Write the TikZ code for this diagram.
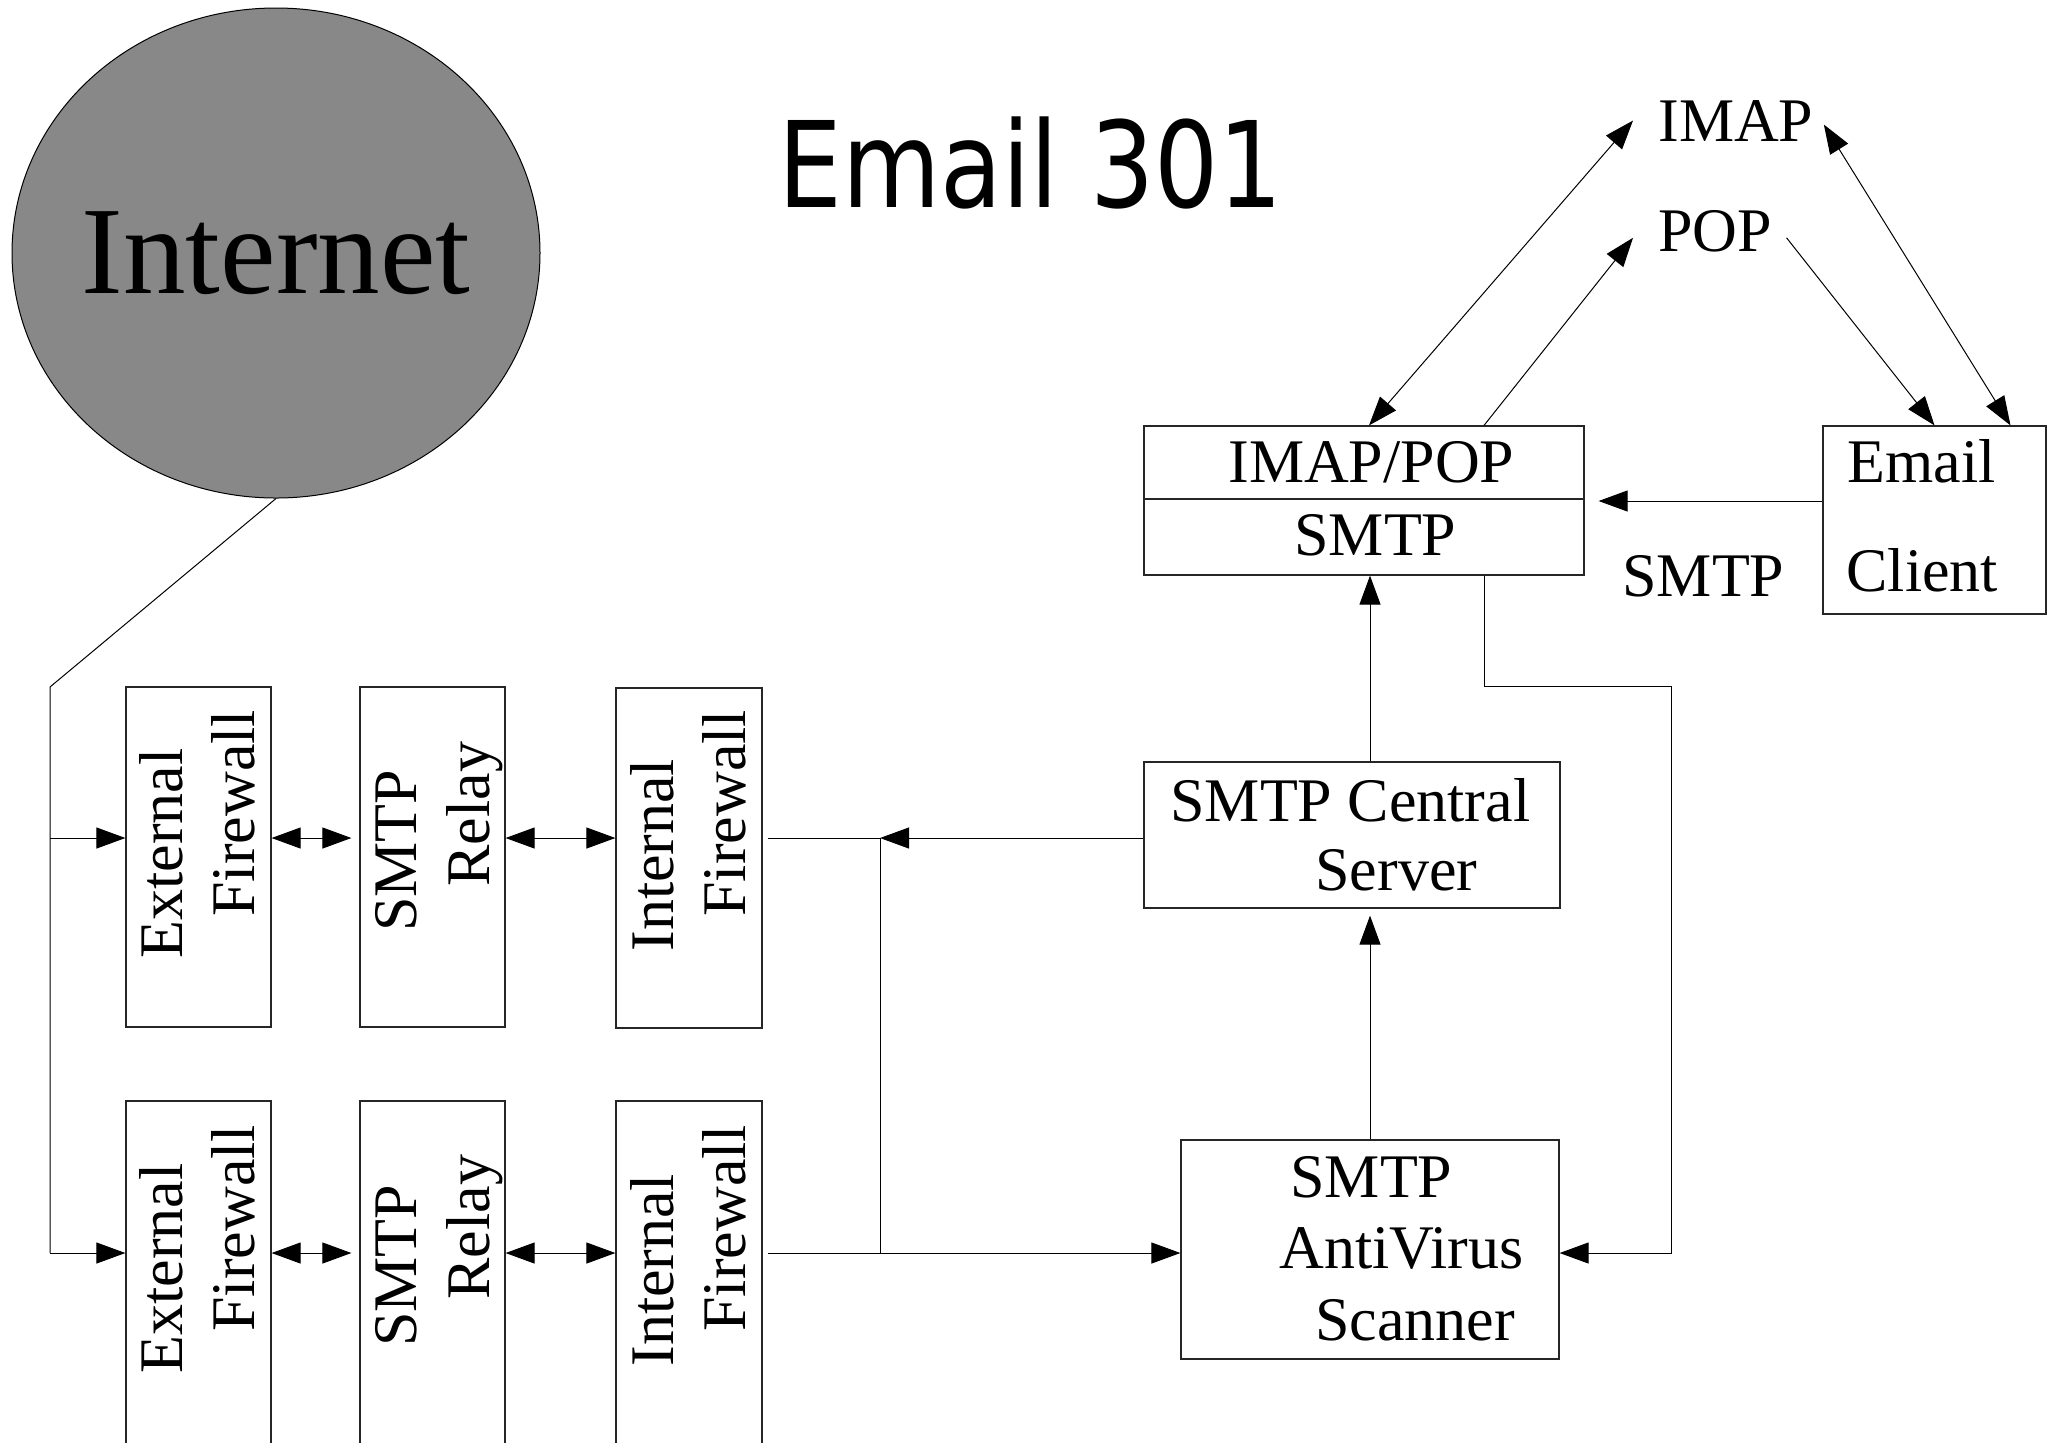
\documentclass[tikz,border=0pt]{standalone}
\usepackage{graphicx}
\usepackage{fontspec}
\setmainfont{Liberation Serif}
\newfontfamily\titlefont{DejaVu Sans}
\usetikzlibrary{arrows.meta,shapes.geometric}
\definecolor{inetgray}{RGB}{136,136,136}
\begin{document}
\begin{tikzpicture}[x=0.5pt,y=-0.5pt,
  box/.style={draw=black!85, line width=0.6pt, inner sep=0pt, rectangle},
  lbl/.style={inner sep=0pt, anchor=base west, font=\fontsize{31pt}{36pt}\selectfont},
  vlbl/.style={lbl, rotate=90},
  conn/.style={line width=0.5pt},
  tip/.style={Triangle[length=14.5pt,width=10.5pt]},
  arr/.style={conn, -{Triangle[length=14.5pt,width=10.5pt]}},
  darr/.style={conn, {Triangle[length=14.5pt,width=10.5pt]}-{Triangle[length=14.5pt,width=10.5pt]}}
]
\useasboundingbox (0,0) rectangle (2049,1442);

% Internet cloud
\node[ellipse, draw=black, fill=inetgray, line width=0.5pt, minimum width=264pt, minimum height=245pt, inner sep=0pt] (inet) at (276,253) {};
\node[inner sep=0pt, font=\fontsize{62.5pt}{70pt}\selectfont] (inetlabel) at (inet.center) {Internet};

% title
\node[inner sep=0pt, anchor=base west, font=\titlefont\fontsize{59.7pt}{66pt}\selectfont] (title) at (778,207) {\scalebox{0.845}[1]{Email 301}};

% left boxes
\node[box, minimum width=72.5pt, minimum height=170pt] (extT) at (198.5,857) {};
\node[box, minimum width=72.5pt, minimum height=170pt] (relT) at (432.5,857) {};
\node[box, minimum width=73pt, minimum height=170pt] (intT) at (689,858) {};
\node[box, minimum width=72.5pt, minimum height=174.5pt] (extB) at (198.5,1275.5) {};
\node[box, minimum width=72.5pt, minimum height=174.5pt] (relB) at (432.5,1275.5) {};
\node[box, minimum width=73pt, minimum height=174.5pt] (intB) at (689,1275.5) {};

\node[vlbl] (tExtT1) at (182,959) {External};
\node[vlbl] (tExtT2) at (254,917) {Firewall};
\node[vlbl] (tRelT1) at (416,932) {SMTP};
\node[vlbl] (tRelT2) at (489,887) {Relay};
\node[vlbl] (tIntT1) at (673,952) {Internal};
\node[vlbl] (tIntT2) at (745,917) {Firewall};

\node[vlbl] (tExtB1) at (182,1374) {External};
\node[vlbl] (tExtB2) at (254,1332) {Firewall};
\node[vlbl] (tRelB1) at (416,1347) {SMTP};
\node[vlbl] (tRelB2) at (489,1300) {Relay};
\node[vlbl] (tIntB1) at (673,1367) {Internal};
\node[vlbl] (tIntB2) at (745,1332) {Firewall};

% right boxes
\node[box, minimum width=220pt, minimum height=74.5pt] (imap) at (1364,500.5) {};
\node[box, minimum width=111.5pt, minimum height=94pt] (client) at (1934.5,520) {};
\node[box, minimum width=208pt, minimum height=73pt] (central) at (1352,835) {};
\node[box, minimum width=189pt, minimum height=109.5pt] (av) at (1370,1249.5) {};

\coordinate (dv) at (0,499);
\draw[line width=1pt, black!85] (imap.west |- dv) -- (imap.east |- dv);

\node[lbl] (tIMAP) at (1658,141) {IMAP};
\node[lbl] (tPOP) at (1658,251) {POP};
\node[lbl] (tImapPop) at (1228,482) {IMAP/POP};
\node[lbl] (tSmtpA) at (1294,555) {SMTP};
\node[lbl] (tEmail) at (1847,482) {Email};
\node[lbl] (tClient) at (1846,591) {Client};
\node[lbl] (tSmtpL) at (1622,596) {SMTP};
\node[lbl] (tCentral) at (1170,821) {SMTP Central};
\node[lbl] (tServer) at (1315,890) {Server};
\node[lbl] (tAvA) at (1290,1197) {SMTP};
\node[lbl] (tAvB) at (1279,1268) {AntiVirus};
\node[lbl] (tAvC) at (1315,1340) {Scanner};

% left connectors
\coordinate (tl) at (50,687);
\coordinate (jt) at (50,838);
\coordinate (jb) at (50,1253);
\draw[conn] (inet.south) -- (tl) -- (jb);
\draw[arr] (jt) -- (jt -| extT.west);
\draw[arr] (jb) -- (jb -| extB.west);
\draw[darr, shorten >=4pt] (jt -| extT.east) -- (jt -| relT.west);
\draw[darr] (jt -| relT.east) -- (jt -| intT.west);
\draw[darr, shorten >=4pt] (jb -| extB.east) -- (jb -| relB.west);
\draw[darr] (jb -| relB.east) -- (jb -| intB.west);

% middle connectors
\coordinate (mt) at (880,838);
\coordinate (mb) at (880,1253);
\draw[arr] (central.west |- mt) -- (mt);
\draw[conn] (mt) -- ([xshift=2.5pt]intT.east |- mt);
\draw[conn] (mt) -- (mb);
\draw[arr] ([xshift=2.5pt]intB.east |- mb) -- (mb -| av.west);

% vertical flow
\coordinate (vx) at (1370,0);
\draw[arr, shorten >=3.5pt] (av.north) -- (av.north |- central.south);
\draw[arr] (central.north -| vx) -- (imap.south -| vx);

% right loop
\coordinate (r1) at (1484,686);
\coordinate (r2) at (1671,686);
\coordinate (r3) at (1671,1253);
\draw[arr] (imap.south -| r1) -- (r1) -- (r2) -- (r3) -- (r3 -| av.east);

% client to server
\coordinate (sm) at (0,501);
\draw[arr, shorten >=7pt] (client.west |- sm) -- (imap.east |- sm);

% IMAP / POP arrows
\draw[darr] ([xshift=2.5pt]imap.north) -- ([xshift=-12.5pt]tIMAP.west);
\draw[arr] ([xshift=60pt]imap.north) -- ([shift={(-12.5pt,-3.5pt)}]tPOP.west);
\draw[arr] ([shift={(7pt,-3.5pt)}]tPOP.east) -- (client.north);
\draw[darr] ([shift={(5pt,-2pt)}]tIMAP.east) -- ([xshift=38pt]client.north);

\end{tikzpicture}
\end{document}
